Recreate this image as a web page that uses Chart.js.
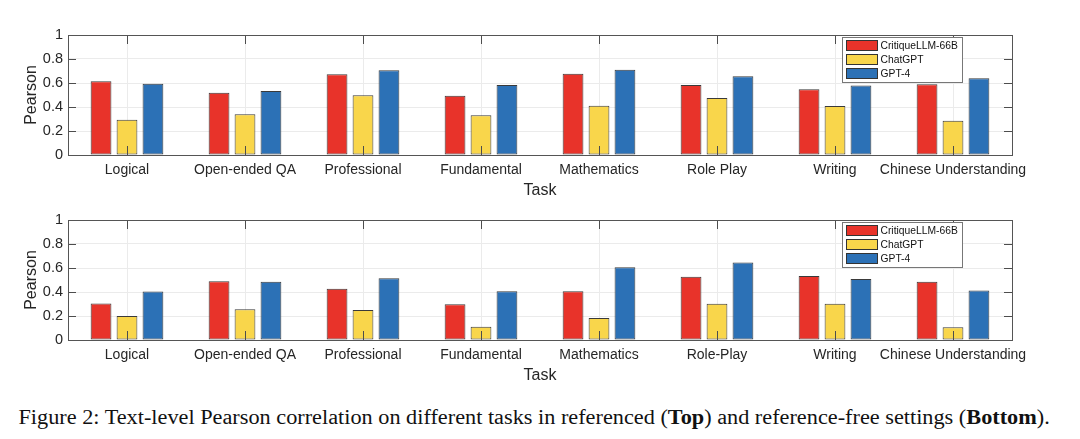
<!DOCTYPE html>
<html>
<head>
<meta charset="utf-8">
<script src="https://cdn.jsdelivr.net/npm/chart.js@4.4.1/dist/chart.umd.min.js"></script>
<style>
  body { margin: 0; background: #fff; width: 1080px; height: 439px; overflow: hidden; position: relative; }
  .panel { position: absolute; left: 0; }
  #caption {
    position: absolute; left: -6px; width: 1080px; top: 405px; text-align: center; white-space: nowrap;
    font-family: "Liberation Serif", "Times New Roman", serif; font-size: 20px; line-height: 24px; color: #111;
  }
  #caption span { display: inline-block; transform-origin: 50% 50%; }
</style>
</head>
<body>
<div class="panel" style="top:0px"><canvas id="topChart" width="1080" height="200"></canvas></div>
<div class="panel" style="top:185px"><canvas id="bottomChart" width="1080" height="200"></canvas></div>
<div id="caption"><span id="capText">Figure 2: Text-level Pearson correlation on different tasks in referenced (<b>Top</b>) and reference-free settings (<b>Bottom</b>).</span></div>

<script>
// data
const tasksTop = ["Logical", "Open-ended QA", "Professional", "Fundamental", "Mathematics", "Role Play", "Writing", "Chinese Understanding"];
const tasksBottom = ["Logical", "Open-ended QA", "Professional", "Fundamental", "Mathematics", "Role-Play", "Writing", "Chinese Understanding"];
const seriesNames = ["CritiqueLLM-66B", "ChatGPT", "GPT-4"];
const seriesColors = ["#e8332a", "#f9d64b", "#2c71b6"];

const critiqueTop = [0.614, 0.519, 0.672, 0.494, 0.678, 0.583, 0.547, 0.589];
const chatgptTop = [0.294, 0.339, 0.497, 0.331, 0.411, 0.475, 0.408, 0.286];
const gpt4Top = [0.594, 0.533, 0.706, 0.583, 0.711, 0.656, 0.580, 0.639];

const critiqueBottom = [0.304, 0.489, 0.427, 0.298, 0.407, 0.528, 0.534, 0.486];
const chatgptBottom = [0.201, 0.257, 0.251, 0.111, 0.184, 0.302, 0.302, 0.106];
const gpt4Bottom = [0.405, 0.486, 0.514, 0.407, 0.606, 0.645, 0.508, 0.413];

const yTicks = [0, 0.2, 0.4, 0.6, 0.8, 1];

Chart.defaults.font.family = '"Liberation Sans", Arial, Helvetica, sans-serif';
Chart.defaults.color = "#262626";

// matlab style box, inward ticks and legend box
const matlabAxes = {
    id: "matlabAxes",
    afterDatasetsDraw(chart) {
        const ctx = chart.ctx;
        const a = chart.chartArea;
        const x = chart.scales.x, y = chart.scales.y;
        ctx.save();
        ctx.lineWidth = 1;
        ctx.strokeStyle = "#4d4d4d";
        ctx.beginPath();
        chart.data.labels.forEach((lab, i) => {
            let px = Math.round(x.getPixelForValue(i)) + 0.5;
            ctx.moveTo(px, a.bottom); ctx.lineTo(px, a.bottom - 9);
            ctx.moveTo(px, a.top); ctx.lineTo(px, a.top + 9);
        });
        yTicks.forEach(v => {
            let py = Math.round(y.getPixelForValue(v)) + 0.5;
            ctx.moveTo(a.left, py); ctx.lineTo(a.left + 8, py);
            ctx.moveTo(a.right, py); ctx.lineTo(a.right - 8, py);
        });
        ctx.stroke();

        ctx.strokeStyle = "#555";
        ctx.strokeRect(Math.round(a.left) + 0.5, Math.round(a.top) + 0.5, Math.round(a.right - a.left), Math.round(a.bottom - a.top));

        // legend
        let lx = Math.round(a.right) - 170 + 0.5, ly = Math.round(a.top) + 2.5;
        ctx.fillStyle = "#fff";
        ctx.fillRect(lx, ly, 120, 45);
        ctx.strokeStyle = "#777";
        ctx.strokeRect(lx, ly, 120, 45);
        ctx.font = '10.3px "Liberation Sans", Arial, sans-serif';
        ctx.textBaseline = "middle";
        chart.data.datasets.forEach((ds, i) => {
            let cy = ly + 8 + i * 14;
            ctx.fillStyle = ds.backgroundColor;
            ctx.fillRect(lx + 4, cy - 5, 31, 10);
            ctx.strokeStyle = "#333";
            ctx.strokeRect(lx + 4, cy - 5, 31, 10);
            ctx.fillStyle = "#111";
            ctx.fillText(ds.label, lx + 38, cy + 0.5);
        });
        ctx.restore();
    }
};

function makeChart(id, labels, s1, s2, s3) {
    const values = [s1, s2, s3];
    return new Chart(document.getElementById(id), {
        type: "bar",
        data: {
            labels: labels,
            datasets: values.map((v, i) => ({
                label: seriesNames[i],
                data: v,
                backgroundColor: seriesColors[i],
                borderColor: "#3a3a3a",
                borderWidth: 1,
                borderSkipped: false,
                categoryPercentage: 0.66,
                barPercentage: 0.8
            }))
        },
        options: {
            responsive: false,
            animation: false,
            layout: { padding: { left: 22, right: 68, top: 35, bottom: 0 } },
            plugins: { legend: { display: false }, tooltip: { enabled: false } },
            scales: {
                x: {
                    grid: { color: "#ebebeb", offset: false, drawTicks: false },
                    border: { display: false },
                    ticks: { font: { size: 14 }, padding: 7, maxRotation: 0, autoSkip: false },
                    title: { display: true, text: "Task", font: { size: 16 }, padding: { top: 0, bottom: 0 } },
                    afterFit: s => { s.height = 45; }
                },
                y: {
                    min: 0, max: 1,
                    grid: { color: "#ebebeb", drawTicks: false },
                    border: { display: false },
                    ticks: { stepSize: 0.2, font: { size: 14.5 }, padding: 5, callback: v => String(+v.toFixed(1)) },
                    title: { display: true, text: "Pearson", font: { size: 16 }, padding: { top: 0, bottom: 0 } },
                    afterFit: s => { s.width = 46; }
                }
            }
        },
        plugins: [matlabAxes]
    });
}

makeChart("topChart", tasksTop, critiqueTop, chatgptTop, gpt4Top);
makeChart("bottomChart", tasksBottom, critiqueBottom, chatgptBottom, gpt4Bottom);

// stretch caption to the width it has in the figure
const cap = document.getElementById("capText");
cap.style.transform = "scaleX(" + (1031 / cap.offsetWidth) + ")";
</script>
</body>
</html>
